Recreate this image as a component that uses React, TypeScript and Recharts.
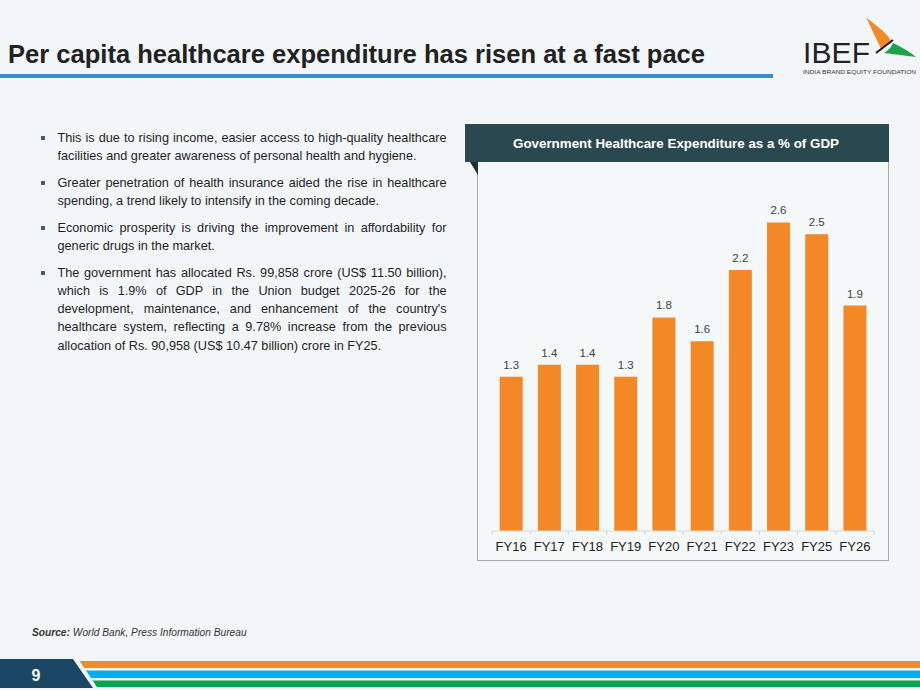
import { Bar, BarChart, LabelList, XAxis, YAxis } from 'recharts';

// Government healthcare spend, % of GDP, by fiscal year
const CATEGORIES = ['FY16', 'FY17', 'FY18', 'FY19', 'FY20', 'FY21', 'FY22', 'FY23', 'FY25', 'FY26'];
const SHARE_OF_GDP = [1.3, 1.4, 1.4, 1.3, 1.8, 1.6, 2.2, 2.6, 2.5, 1.9];

const BULLETS = [
  [
    'This is due to rising income, easier access to high-quality healthcare',
    'facilities and greater awareness of personal health and hygiene.',
  ],
  [
    'Greater penetration of health insurance aided the rise in healthcare',
    'spending, a trend likely to intensify in the coming decade.',
  ],
  [
    'Economic prosperity is driving the improvement in affordability for',
    'generic drugs in the market.',
  ],
  [
    'The government has allocated Rs. 99,858 crore (US$ 11.50 billion),',
    'which is 1.9% of GDP in the Union budget 2025-26 for the',
    "development, maintenance, and enhancement of the country's",
    'healthcare system, reflecting a 9.78% increase from the previous',
    'allocation of Rs. 90,958 (US$ 10.47 billion) crore in FY25.',
  ],
];
const BULLET_TOPS = [129, 174, 219, 263.5];

const BG = '#f3f6f8';
const BAR_ORANGE = '#f48726';
const FONT = '"Liberation Sans", Arial, Helvetica, sans-serif';

const CHART_W = 411;
const CHART_H = 399;
const MARGIN = { top: 13, right: 15, bottom: 6, left: 14 };
const BAND = (CHART_W - MARGIN.left - MARGIN.right) / CATEGORIES.length;

const data = CATEGORIES.map((fy, i) => ({ fy, value: SHARE_OF_GDP[i] }));

// tick marks sit between categories, not under them
function FyTick(props: any) {
  const { x, y, payload } = props;
  const last = payload.value === CATEGORIES[CATEGORIES.length - 1];
  return (
    <g>
      <line x1={x - BAND / 2} x2={x - BAND / 2} y1={y} y2={y + 4} stroke="#d2d2d2" />
      {last && <line x1={x + BAND / 2} x2={x + BAND / 2} y1={y} y2={y + 4} stroke="#d2d2d2" />}
      <text x={x} y={y + 20} textAnchor="middle" fontSize={13} fill="#222">
        {payload.value}
      </text>
    </g>
  );
}

function Decor() {
  return (
    <svg width={920} height={690} style={{ position: 'absolute', left: 0, top: 0 }}>
      <text x={8} y={63} fontSize={26} fontWeight="bold" fill="#222" textLength={697} lengthAdjust="spacingAndGlyphs">
        Per capita healthcare expenditure has risen at a fast pace
      </text>
      <rect x={0} y={74} width={773} height={4} fill="#3a8dd0" />

      {/* logo */}
      <text x={803} y={63} fontSize={30} fill="#222" textLength={67} lengthAdjust="spacing">IBEF</text>
      <text x={803} y={74} fontSize={6} fill="#333" textLength={113} lengthAdjust="spacingAndGlyphs">
        INDIA BRAND EQUITY FOUNDATION
      </text>
      <path d="M866,17 C873,24 886,31 891,41 L881,49 C877,40 872,30 866,17 Z" fill="#f28a25" />
      <path d="M893,43 C902,47 910,52 916,57 L884,53 C889,50 891,47 893,43 Z" fill="#1fa34a" />
      <line x1={876} y1={53} x2={893} y2={40} stroke="#1d1d1d" strokeWidth={2} />

      {/* chart panel */}
      <rect x={477.5} y={161.5} width={411} height={399} fill="#f5f8f9" stroke="#a3abb0" />
      <rect x={465} y={124} width={424} height={38} fill="#2a4850" />
      <polygon points="470,162 478,162 478,175" fill="#1e2e33" />
      <text x={676} y={148} textAnchor="middle" fontSize={13} fontWeight="bold" fill="#fff" textLength={326} lengthAdjust="spacingAndGlyphs">
        Government Healthcare Expenditure as a % of GDP
      </text>

      {/* source line */}
      <text x={32} y={636} fontSize={10.2} fontStyle="italic" fill="#333">
        <tspan fontWeight="bold">Source:</tspan> World Bank, Press Information Bureau
      </text>

      {/* footer stripes */}
      <rect x={0} y={661} width={920} height={7} fill="#f58a22" />
      <rect x={0} y={670.5} width={920} height={7.5} fill="#00aeef" />
      <rect x={0} y={680.5} width={920} height={6.5} fill="#00a651" />
      <polygon points="0,657 77,657 99,690 0,690" fill={BG} />
      <polygon points="0,659 73,659 93,688 0,688" fill="#1b4664" />
      <text x={36} y={681} textAnchor="middle" fontSize={16} fontWeight="bold" fill="#fff">9</text>
    </svg>
  );
}

export default function App() {
  return (
    <div
      style={{
        position: 'absolute',
        left: 0,
        top: 0,
        width: 920,
        height: 690,
        background: BG,
        fontFamily: FONT,
        overflow: 'hidden',
      }}
    >
      <Decor />

      {BULLETS.map((lines, p) => (
        <div
          key={p}
          style={{ position: 'absolute', left: 57.5, top: BULLET_TOPS[p], width: 389, fontSize: 12.7, lineHeight: '18.3px', color: '#1e1e1e' }}
        >
          <div style={{ position: 'absolute', left: -16.5, top: 7, width: 4, height: 4, background: '#4a5a66' }} />
          {lines.map((line, i) => (
            <div
              key={i}
              style={{
                whiteSpace: 'nowrap',
                textAlign: i < lines.length - 1 ? 'justify' : 'left',
                textAlignLast: i < lines.length - 1 ? 'justify' : 'left',
              }}
            >
              {line}
            </div>
          ))}
        </div>
      ))}

      <div style={{ position: 'absolute', left: 478, top: 162 }}>
        <BarChart width={CHART_W} height={CHART_H} data={data} margin={MARGIN} barCategoryGap="20%">
          <XAxis
            dataKey="fy"
            height={24}
            tickSize={0}
            tickMargin={0}
            tickLine={false}
            axisLine={{ stroke: '#d9d9d9' }}
            interval={0}
            tick={(p: any) => <FyTick {...p} />}
          />
          <YAxis hide domain={[0, 3]} />
          <Bar dataKey="value" fill={BAR_ORANGE} isAnimationActive={false}>
            <LabelList dataKey="value" position="top" offset={8} fontSize={11.5} fill="#404040" />
          </Bar>
        </BarChart>
      </div>
    </div>
  );
}
